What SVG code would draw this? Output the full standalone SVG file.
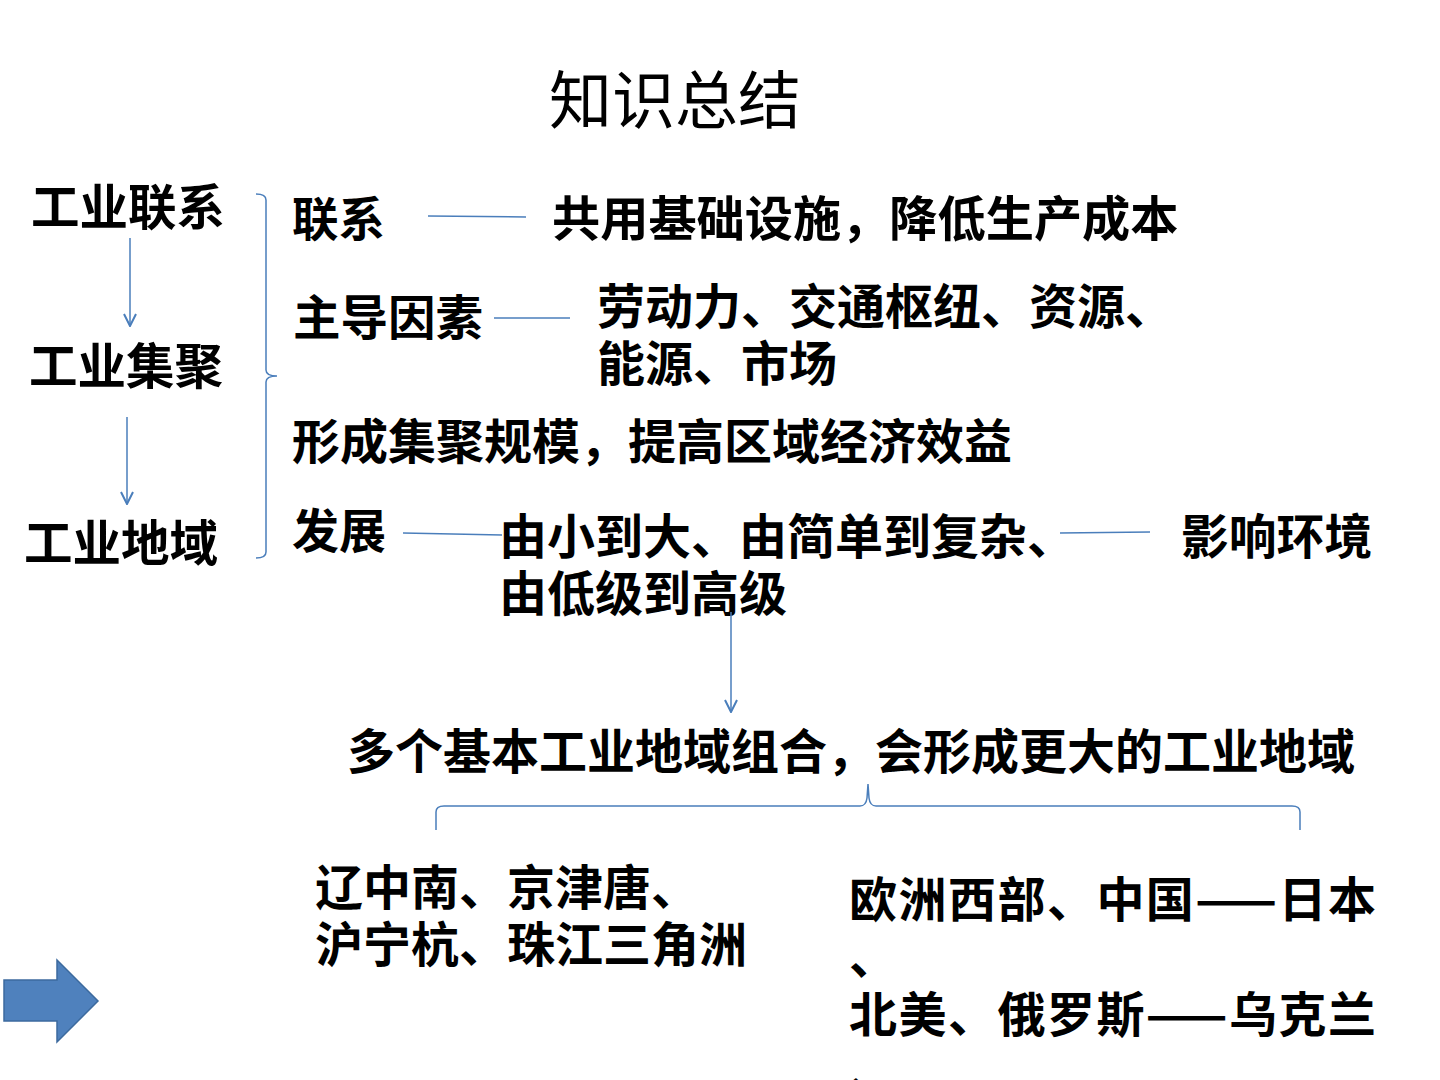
<svg xmlns="http://www.w3.org/2000/svg" width="1440" height="1080" viewBox="0 0 1440 1080">
<defs>
<style>
.t{font-family:"Noto Sans CJK SC","Noto Sans CJK TC",sans-serif;font-weight:bold;fill:#000}
.title{font-family:"Noto Sans CJK SC",sans-serif;font-weight:normal;fill:#000;font-size:63px}
.c{stroke:#4A7EBB;stroke-width:1.5;fill:none}
</style>
<marker id="v" viewBox="0 0 14 14" refX="13" refY="7" markerWidth="14" markerHeight="14" markerUnits="userSpaceOnUse" orient="auto">
<path d="M1 1 L13 7 L1 13" fill="none" stroke="#4A7EBB" stroke-width="2"/>
</marker>
</defs>
<rect width="1440" height="1080" fill="#fff"/>
<text class="title" x="549" y="123">知识总结</text>
<g id="n-lianxi-left"><text class="t" x="31" y="225" font-size="48.5">工业联系</text></g>
<g id="n-jiju"><text class="t" x="29" y="384" font-size="48.5">工业集聚</text></g>
<g id="n-diyu"><text class="t" x="24" y="561" font-size="48.5">工业地域</text></g>
<g id="n-lianxi"><text class="t" x="292" y="236" font-size="46.5">联系</text></g>
<g id="n-gongyong"><text class="t" x="552" y="236" font-size="48.2">共用基础设施，降低生产成本</text></g>
<g id="n-zhudao"><text class="t" x="293" y="335" font-size="47.5">主导因素</text></g>
<g id="n-laodong"><text class="t" font-size="48"><tspan x="597" y="324">劳动力、交通枢纽、资源、</tspan><tspan x="597" y="381">能源、市场</tspan></text></g>
<g id="n-xingcheng"><text class="t" x="292" y="459" font-size="48">形成集聚规模，提高区域经济效益</text></g>
<g id="n-fazhan"><text class="t" x="292" y="548" font-size="47">发展</text></g>
<g id="n-youxiao"><text class="t" font-size="48"><tspan x="499" y="554">由小到大、由简单到复杂、</tspan><tspan x="499" y="611">由低级到高级</tspan></text></g>
<g id="n-yingxiang"><text class="t" x="1181" y="554" font-size="47.8">影响环境</text></g>
<g id="n-duoge"><text class="t" x="347" y="769" font-size="48">多个基本工业地域组合，会形成更大的工业地域</text></g>
<g id="n-guonei"><text class="t" font-size="48"><tspan x="315" y="905">辽中南、京津唐、</tspan><tspan x="315" y="962">沪宁杭、珠江三角洲</tspan></text></g>
<g id="n-guowai"><text class="t" font-size="48"><tspan x="849" y="917" textLength="527" lengthAdjust="spacing">欧洲西部、中国——日本</tspan><tspan x="849" y="974">、</tspan><tspan x="849" y="1032" textLength="527" lengthAdjust="spacing">北美、俄罗斯——乌克兰</tspan><tspan x="849" y="1089">、</tspan></text></g>
<g id="n-blockarrow"><path d="M4 980 L57 980 L57 960 L98 1001 L57 1042 L57 1021 L4 1021 Z" fill="#4F81BD" stroke="#3C6A9E" stroke-width="1.5"/></g>
<g id="connectors">
<line class="c" x1="130" y1="238" x2="130" y2="326" marker-end="url(#v)"/>
<line class="c" x1="127" y1="417" x2="127" y2="504" marker-end="url(#v)"/>
<path class="c" d="M256 194 Q266 194 266 200 L266 370 Q266 376 277 376 Q266 376 266 382 L266 552 Q266 558 256 558"/>
<line class="c" x1="428" y1="216" x2="526" y2="217"/>
<line class="c" x1="494" y1="318" x2="570" y2="318"/>
<line class="c" x1="403" y1="533" x2="502" y2="535"/>
<line class="c" x1="1060" y1="533" x2="1150" y2="532"/>
<line class="c" x1="731" y1="612" x2="731" y2="712" marker-end="url(#v)"/>
<path class="c" d="M436 830 L436 812 Q436 806 444 806 L860 806 Q866 806 867 798 L868 784 L869 798 Q870 806 876 806 L1292 806 Q1300 806 1300 812 L1300 830"/>
</g>
</svg>
